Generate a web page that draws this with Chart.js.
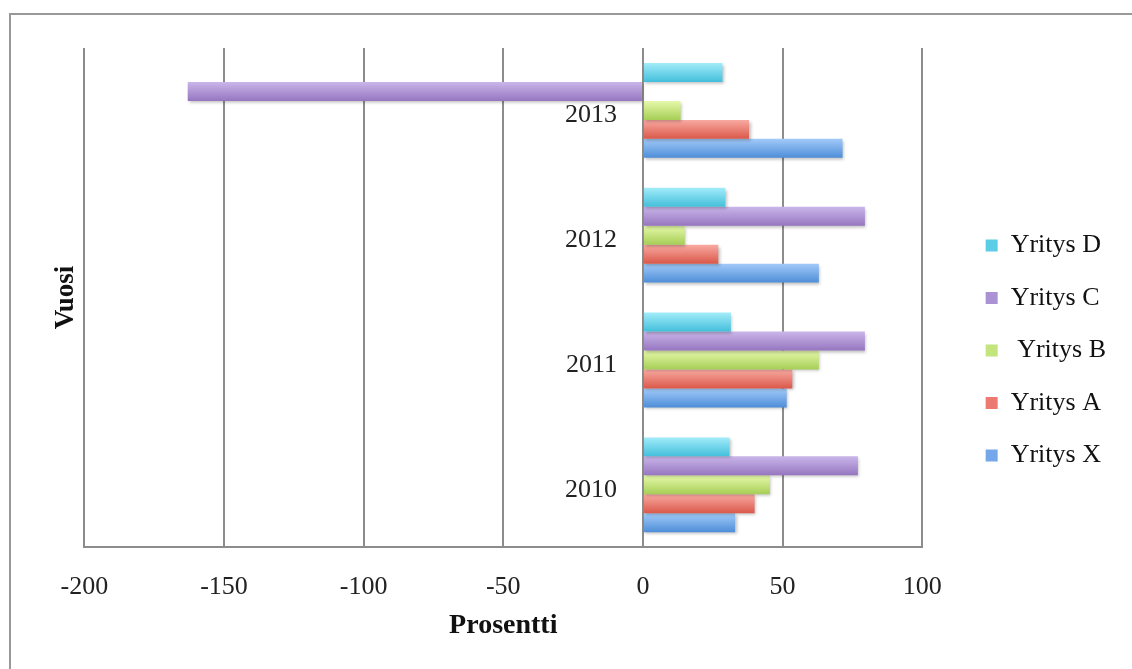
<!DOCTYPE html>
<html lang="fi">
<head>
<meta charset="UTF-8">
<title>Yritykset 2010-2013</title>
<style>
  html, body { margin: 0; padding: 0; background: #fff; overflow: hidden; }
  .frame { position: absolute; left: 9px; top: 13px; width: 1200px; height: 700px;
           border-top: 2px solid #999; border-left: 2px solid #999; }
  .wrap { position: absolute; left: 0; top: 0; width: 1132px; height: 669px; }
</style>
</head>
<body>
<div class="frame"></div>
<div class="wrap"><canvas id="chart"></canvas></div>
<script src="https://cdn.jsdelivr.net/npm/chart.js"></script>
<script>
// vuodet ylhäältä alas, kuten kuvassa
const years = ['2013', '2012', '2011', '2010'];
const yritysD = [28.5, 29.5, 31.5, 31];
const yritysC = [-163, 79.5, 79.5, 77];
const yritysB = [13.5, 15, 63, 45.5];
const yritysA = [38, 27, 53.5, 40];
const yritysX = [71.5, 63, 51.5, 33];

const serif = 'Liberation Serif';
Chart.defaults.font.family = serif;

// värit: [yläreuna, alareuna, selite]
const colors = [
  ['#a2ecf9', '#43bfdb', '#5ccde6'],
  ['#cab6ea', '#9676c0', '#ab92d4'],
  ['#e6f9aa', '#a6ce56', '#c4e47e'],
  ['#f9aaa2', '#da584a', '#ec7a70'],
  ['#a2caf9', '#4e8ed8', '#74a8ea']
];

// liukuväri ja pieni varjo jokaiselle palkille
const shade = {
  id: 'shade',
  beforeDatasetDraw(chart, args) {
    const ctx = chart.ctx;
    const c = colors[args.index];
    args.meta.data.forEach(bar => {
      const top = bar.y - bar.height / 2;
      const g = ctx.createLinearGradient(0, top, 0, top + bar.height);
      g.addColorStop(0, c[0]);
      g.addColorStop(1, c[1]);
      bar.options = Object.assign({}, bar.options, { backgroundColor: g });
    });
    ctx.save();
    ctx.shadowColor = 'rgba(0,0,0,0.25)';
    ctx.shadowBlur = 3;
    ctx.shadowOffsetX = 1.5;
    ctx.shadowOffsetY = 2;
  },
  afterDatasetDraw(chart) {
    chart.ctx.restore();
  }
};

const names = ['Yritys D', 'Yritys C', ' Yritys B', 'Yritys A', 'Yritys X'];
const series = [yritysD, yritysC, yritysB, yritysA, yritysX];

new Chart(document.getElementById('chart'), {
  type: 'bar',
  data: {
    labels: years,
    datasets: series.map((s, i) => ({
      label: names[i],
      data: s,
      backgroundColor: colors[i][2],
      borderWidth: 0,
      categoryPercentage: 0.76,
      barPercentage: 1
    }))
  },
  options: {
    indexAxis: 'y',
    responsive: true,
    maintainAspectRatio: false,
    animation: false,
    layout: { padding: { top: 48, bottom: 24, left: 10, right: 16 } },
    scales: {
      x: {
        type: 'linear',
        min: -200,
        max: 100,
        ticks: { stepSize: 50, padding: 24, color: '#222', font: { size: 26 } },
        grid: { color: '#8c8c8c', lineWidth: 2, drawTicks: false },
        border: { color: '#8c8c8c', width: 2 },
        title: {
          display: true,
          text: 'Prosentti',
          color: '#111',
          font: { size: 28, weight: 'bold' },
          padding: { top: -17, bottom: 2 }
        }
      },
      y: {
        type: 'category',
        // nimikkeet hieman nollaviivan vasemmalle puolelle
        position: { x: -9.3 },
        grid: { display: false, drawTicks: false },
        border: { display: false },
        ticks: { padding: 0, labelOffset: 5, color: '#222', font: { size: 26 } }
      },
      // tyhjä akseli, joka työntää selitteen oikealle
      gap: {
        type: 'linear',
        position: 'right',
        ticks: { display: false },
        grid: { display: false, drawTicks: false },
        border: { display: false },
        afterFit(scale) { scale.width = 37; }
      }
    },
    plugins: {
      title: {
        display: true,
        position: 'left',
        fullSize: false,
        text: 'Vuosi',
        color: '#111',
        font: { size: 27, weight: 'bold' },
        padding: { top: 40, bottom: 2 }
      },
      legend: {
        position: 'right',
        maxWidth: 220,
        title: { display: true, text: ' ', padding: 1, font: { size: 5 } },
        labels: {
          boxWidth: 12,
          boxHeight: 12,
          padding: 26.5,
          color: '#111',
          font: { size: 26 }
        }
      },
      tooltip: { enabled: false }
    }
  },
  plugins: [shade]
});
</script>
</body>
</html>
